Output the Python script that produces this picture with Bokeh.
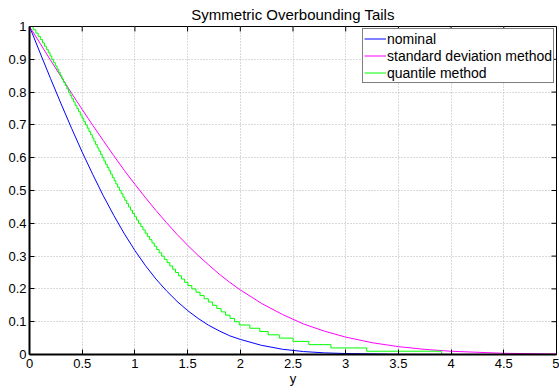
import math
from bokeh.plotting import figure
from bokeh.models import FixedTicker, Legend, LegendItem, Range1d
from bokeh.embed import file_html
from bokeh.resources import INLINE

# ---- data ----
x_ticks = [0, 0.5, 1, 1.5, 2, 2.5, 3, 3.5, 4, 4.5, 5]
x_tick_labels = ["0", "0.5", "1", "1.5", "2", "2.5", "3", "3.5", "4", "4.5", "5"]
y_ticks = [0, 0.1, 0.2, 0.3, 0.4, 0.5, 0.6, 0.7, 0.8, 0.9, 1]
y_tick_labels = ["0", "0.1", "0.2", "0.3", "0.4", "0.5", "0.6", "0.7", "0.8", "0.9", "1"]
x_min, x_max = 0, 5
y_min, y_max = 0, 1

# nominal curve
nom_x = [0, 0.1, 0.2, 0.3, 0.4, 0.5, 0.6, 0.7, 0.8, 0.9, 1.0, 1.1, 1.2, 1.3, 1.4,
         1.5, 1.6, 1.7, 1.8, 1.9, 2.0, 2.2, 2.4, 2.6, 2.8, 3.0, 3.5, 4.0, 5.0]
nom_y = [1.000, 0.920, 0.841, 0.764, 0.689, 0.617, 0.549, 0.484, 0.424, 0.368,
         0.317, 0.271, 0.230, 0.194, 0.162, 0.134, 0.110, 0.089, 0.072, 0.057,
         0.046, 0.028, 0.016, 0.009, 0.005, 0.003, 0.0005, 0.0001, 0.0]

# standard deviation method curve
sd_x = [0, 0.1, 0.2, 0.3, 0.4, 0.5, 0.6, 0.7, 0.8, 0.9, 1.0, 1.1, 1.2, 1.3, 1.4,
        1.5, 1.6, 1.7, 1.8, 1.9, 2.0, 2.2, 2.4, 2.6, 2.8, 3.0, 3.25, 3.5, 3.75,
        4.0, 4.5, 5.0]
sd_y = [1.000, 0.949, 0.897, 0.847, 0.796, 0.747, 0.699, 0.652, 0.606, 0.561,
        0.519, 0.478, 0.439, 0.402, 0.366, 0.333, 0.302, 0.273, 0.245, 0.220,
        0.197, 0.156, 0.122, 0.093, 0.071, 0.053, 0.036, 0.024, 0.0156, 0.0099,
        0.0037, 0.0013]

# quantile method: staircase (x where each level begins, level value)
q_x = [0, 0.035, 0.060, 0.082, 0.103, 0.123, 0.142, 0.160, 0.178, 0.195, 0.212,
       0.229, 0.245, 0.261, 0.277, 0.292, 0.308, 0.323, 0.339, 0.354, 0.370,
       0.385, 0.401, 0.417, 0.433, 0.450, 0.466, 0.482, 0.498, 0.515, 0.531,
       0.548, 0.564, 0.580, 0.596, 0.611, 0.627, 0.643, 0.659, 0.675, 0.690,
       0.706, 0.722, 0.738, 0.754, 0.770, 0.786, 0.803, 0.819, 0.836, 0.853,
       0.870, 0.887, 0.904, 0.922, 0.940, 0.958, 0.977, 0.996, 1.015, 1.035,
       1.056, 1.076, 1.097, 1.118, 1.140, 1.162, 1.184, 1.207, 1.230, 1.254,
       1.279, 1.305, 1.331, 1.358, 1.385, 1.413, 1.442, 1.472, 1.503, 1.540,
       1.580, 1.618, 1.657, 1.697, 1.737, 1.777, 1.818, 1.860, 1.903, 1.946,
       1.990, 2.090, 2.185, 2.265, 2.370, 2.500, 2.650, 2.860, 3.200, 3.910]
q_y = [1.00, 0.99, 0.98, 0.97, 0.96, 0.95, 0.94, 0.93, 0.92, 0.91, 0.90,
       0.89, 0.88, 0.87, 0.86, 0.85, 0.84, 0.83, 0.82, 0.81, 0.80,
       0.79, 0.78, 0.77, 0.76, 0.75, 0.74, 0.73, 0.72, 0.71, 0.70,
       0.69, 0.68, 0.67, 0.66, 0.65, 0.64, 0.63, 0.62, 0.61, 0.60,
       0.59, 0.58, 0.57, 0.56, 0.55, 0.54, 0.53, 0.52, 0.51, 0.50,
       0.49, 0.48, 0.47, 0.46, 0.45, 0.44, 0.43, 0.42, 0.41, 0.40,
       0.39, 0.38, 0.37, 0.36, 0.35, 0.34, 0.33, 0.32, 0.31, 0.30,
       0.29, 0.28, 0.27, 0.26, 0.25, 0.24, 0.23, 0.22, 0.21, 0.20,
       0.19, 0.18, 0.17, 0.16, 0.15, 0.14, 0.13, 0.12, 0.11, 0.10,
       0.09, 0.08, 0.07, 0.06, 0.05, 0.04, 0.03, 0.02, 0.01, 0.00]

series_names = ["nominal", "standard deviation method", "quantile method"]
series_colors = ["#0000ff", "#ff00ff", "#00ff00"]

FONT = "Liberation Sans"

p = figure(width=559, height=392, output_backend="svg", toolbar_location=None,
           x_range=Range1d(x_min, x_max), y_range=Range1d(y_min, y_max),
           min_border_left=29, min_border_right=3, min_border_top=25,
           min_border_bottom=38, background_fill_color="white",
           border_fill_color="white")

p.title.text = "Symmetric Overbounding Tails"
p.title.align = "center"
p.title.text_font = FONT
p.title.text_font_style = "normal"
p.title.text_font_size = "15px"
p.title.text_color = "black"
p.title.offset = 0
p.title.standoff = 7

for g in p.grid:
    g.grid_line_color = "#b4b4b4"
    g.grid_line_dash = "1 2"
    g.grid_line_width = 1
p.xgrid.ticker = FixedTicker(ticks=x_ticks)
p.ygrid.ticker = FixedTicker(ticks=y_ticks)

r_nom = p.line(nom_x, nom_y, line_color=series_colors[0], line_width=1)
r_sd = p.line(sd_x, sd_y, line_color=series_colors[1], line_width=1)
r_q = p.step(q_x, q_y, mode="after", line_color=series_colors[2], line_width=1)

# mirrored tick marks on top and right edges (MATLAB box style)
p.ray(x=x_ticks, y=[y_max] * len(x_ticks), length=5, length_units="screen",
      angle=-math.pi / 2, line_color="black", line_width=1)
p.ray(x=[x_max] * len(y_ticks), y=y_ticks, length=5, length_units="screen",
      angle=math.pi, line_color="black", line_width=1)

p.outline_line_color = "black"
p.outline_line_width = 1
p.outline_line_alpha = 1

xlab = dict(zip([float(t) for t in x_ticks], x_tick_labels))
ylab = dict(zip([float(t) for t in y_ticks], y_tick_labels))

for ax in p.xaxis:
    ax.ticker = FixedTicker(ticks=x_ticks)
    ax.major_label_overrides = xlab
    ax.major_label_standoff = 4
for ax in p.yaxis:
    ax.ticker = FixedTicker(ticks=y_ticks)
    ax.major_label_overrides = ylab
    ax.major_label_standoff = 3

for ax in list(p.xaxis) + list(p.yaxis):
    ax.axis_line_color = "black"
    ax.axis_line_width = 2
    ax.major_tick_in = 5
    ax.major_tick_out = 0
    ax.minor_tick_line_color = None
    ax.major_tick_line_color = "black"
    ax.major_label_text_font = FONT
    ax.major_label_text_font_size = "13px"
    ax.major_label_text_color = "black"

p.xaxis.axis_label = "y"
p.xaxis.axis_label_text_font = FONT
p.xaxis.axis_label_text_font_size = "13px"
p.xaxis.axis_label_text_font_style = "normal"
p.xaxis.axis_label_text_color = "black"
p.xaxis.axis_label_standoff = 0

legend = Legend(items=[LegendItem(label=series_names[0], renderers=[r_nom]),
                       LegendItem(label=series_names[1], renderers=[r_sd]),
                       LegendItem(label=series_names[2], renderers=[r_q])],
                location="top_right")
legend.border_line_color = "black"
legend.border_line_width = 1
legend.background_fill_color = "white"
legend.background_fill_alpha = 1
legend.label_text_font = FONT
legend.label_text_font_size = "14px"
legend.label_text_color = "black"
legend.glyph_width = 22
legend.glyph_height = 17
legend.label_height = 17
legend.label_standoff = 1
legend.spacing = 0
legend.padding = 1
legend.margin = 2
p.add_layout(legend)

open("out.html", "w").write(file_html(p, INLINE))
